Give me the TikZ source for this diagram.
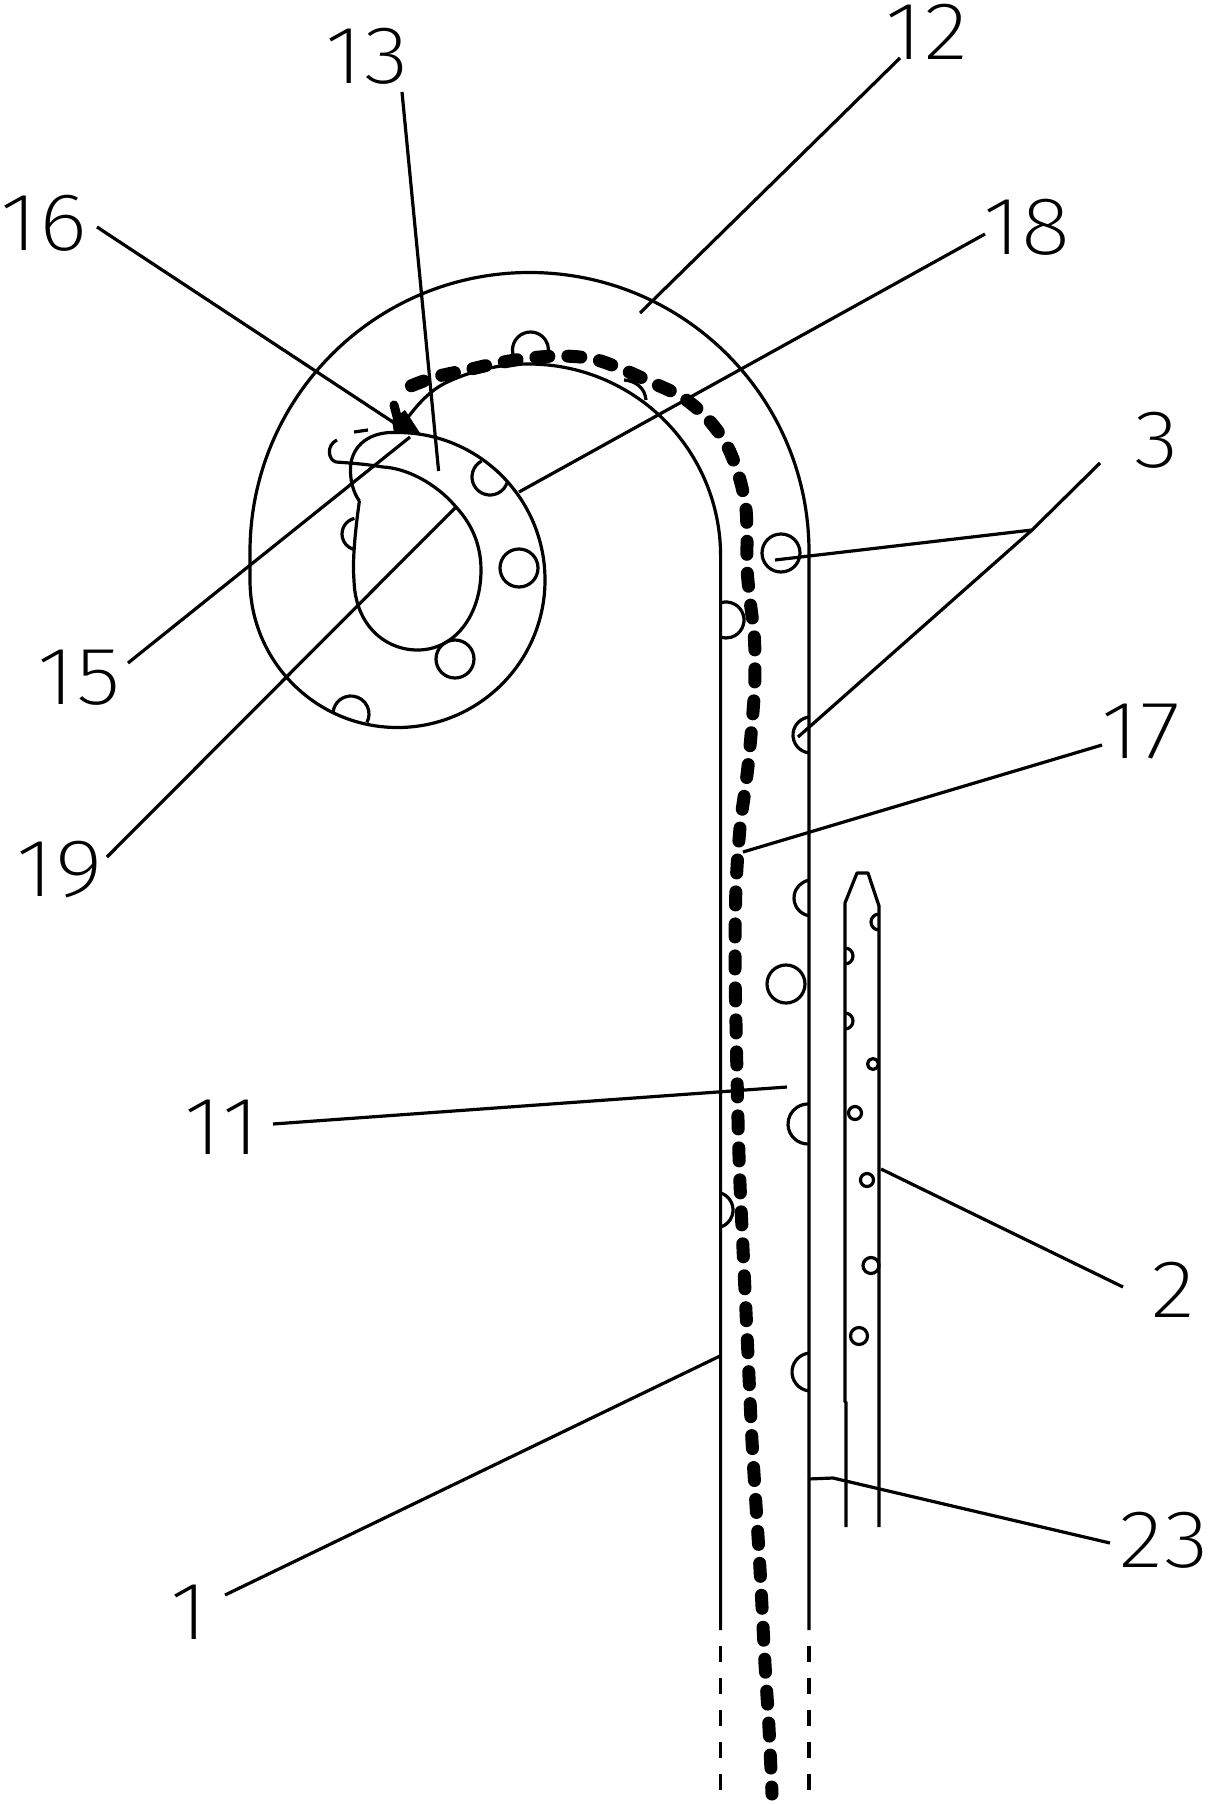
\documentclass[tikz,border=0pt]{standalone}
\usepackage{fontspec}
\newfontfamily\labelfont[FakeStretch=1.12, LetterSpace=2]{Fira Sans ExtraLight}
\usetikzlibrary{calc,positioning}

\tikzset{
  wall/.style={line width=3.2pt, line join=round},
  leader/.style={line width=3.2pt},
  flow/.style={line width=13pt, line cap=round, dash pattern=on 13pt off 19pt},
  partno/.style={inner sep=0pt, font=\labelfont\fontsize{82}{82}\selectfont}
}

\begin{document}
\begin{tikzpicture}[x=1pt, y=-1pt]
  \useasboundingbox (0,0) rectangle (1213,1804);

  % tube with its hook
  \draw[wall] (809,1630) -- (809,552) arc[start angle=0, end angle=-180, radius=279.5] -- (250,580)
    arc[start angle=180, end angle=-90, radius=147.5]
    .. controls (370,431) and (352,445) .. (350.5,467) .. controls (350,480) and (353,492) .. (359.4,501);
  \draw[wall] (359.4,501) .. controls (356,525) and (352,560) .. (354,580) .. controls (355,625) and (385,650) .. (417.5,650)
    .. controls (455,650) and (481,615) .. (481,570) .. controls (481,540) and (468,520) .. (456,507)
    .. controls (435,482) and (405,468) .. (383,467) .. controls (365,464) and (350,463) .. (336,462)
    .. controls (328,460) and (326,445) .. (337,440);
  \draw[wall] (720.6,1630) -- (720.6,556) arc[start angle=0, end angle=-115, radius=192]
    .. controls (430,390) and (417,405) .. (406,420);
  \draw[wall] (354,432) -- (368,430);
  \foreach \tubex in {720.6,809}
    \draw[wall, dash pattern=on 16pt off 16pt] (\tubex,1646) -- (\tubex,1800);

  % holes of the tube
  \foreach \cx/\cy/\r in {781/553/19, 519/568/19, 455/659/19, 786/984/19}
    \draw[wall] (\cx,\cy) circle[radius=\r];
  \foreach \cx/\cy/\r/\a/\b in {811/735/18/96/264, 812/898/18/100/260, 808/1124/20/87/273, 811/1372/19/96/264, 726/620/18/-107/107, 715/1210/18/-72/72, 530.5/350/18/146/394, 490/477/18/242/19, 351/714/18/186/388, 358/534/16/257/108}
    \draw[wall] (\cx,\cy) ++(\a:\r) arc[start angle=\a, end angle=\b, radius=\r];
  \draw[wall] (624,380) .. controls (636,381) and (645,388) .. (646,400);

  % needle
  \draw[wall] (846,1527) -- (846,1402) -- (845,1402) -- (845,903) -- (857,873) -- (868,873) -- (879,906) -- (879,1527);
  \foreach \cx/\cy/\r in {873/1064/5.5, 855/1113/6.5, 867/1180/6.5, 871/1265.5/8, 859/1336/8.5}
    \draw[wall] (\cx,\cy) circle[radius=\r];
  \foreach \cx/\cy/\a/\b in {879/922/90/270, 845/956/-90/90, 845/1021/-90/90}
    \draw[wall] (\cx,\cy) ++(\a:8) arc[start angle=\a, end angle=\b, radius=8];

  % guide wire
  \draw[flow, dash phase=6pt] plot[smooth, tension=0.55] coordinates {(772,1794) (769,1728) (765,1664) (760,1569) (756,1505) (752,1441) (749,1377) (746,1312) (743,1249) (740,1184) (738,1120) (736,1024) (735,960) (736,887) (740,828) (745,790) (749,757) (754,698) (755,663) (754,633) (750,600) (747,568) (747,535) (745.5,505) (738,473) (725.6,443) (706,417) (682,397) (653,383) (624,370) (593.6,359) (561,356) (530,358) (498,363) (467,370) (435.5,377) (406,388) (396,394)};
  \draw[line width=9pt, line cap=round] (394,405) -- (399,424);
  \fill (392,420) -- (405,410) -- (420,433) -- (394,433) -- cycle;

  % part numbers
  \node[partno] (lab1) at (189,1612) {1};
  \node[partno] (lab2) at (1173,1290) {2};
  \node[partno] (lab3) at (1157,440) {3};
  \node[partno] (lab11) at (222,1127) {11};
  \node[partno] (lab12) at (927,32) {12};
  \node[partno] (lab13) at (367,56) {13};
  \node[partno] (lab15) at (79,678) {15};
  \node[partno] (lab16) at (44,223) {16};
  \node[partno] (lab17) at (1141,732) {17};
  \node[partno] (lab18) at (1027,227) {18};
  \node[partno] (lab19) at (60,870) {19};
  \node[partno] (lab23) at (1164,1540) {23};

  % leader lines
  \coordinate (fork3) at (1032,530);
  \draw[leader] ([shift={(36,-17)}]lab1.center) -- (720,1356);
  \draw[leader] ([shift={(-50,-3)}]lab2.center) -- (881,1169);
  \draw[leader] ([shift={(-57,23)}]lab3.center) -- (fork3) -- (775,560);
  \draw[leader] (fork3) -- (798,737);
  \draw[leader] ([shift={(51,-3)}]lab11.center) -- (787,1087);
  \draw[leader] ([shift={(-27,26)}]lab12.center) -- (640,313);
  \draw[leader] ([shift={(35,36)}]lab13.center) -- (438.6,471);
  \draw[leader] ([shift={(49,-15)}]lab15.center) -- (410,437);
  \draw[leader] ([shift={(53,4)}]lab16.center) -- (405,430);
  \draw[leader] ([shift={(-39,13)}]lab17.center) -- (743,852);
  \draw[leader] ([shift={(-42,7)}]lab18.center) -- (519,492);
  \draw[leader] ([shift={(47,-13)}]lab19.center) -- (456,507);
  \draw[leader] ([shift={(-54,3)}]lab23.center) -- (833,1478) -- (808,1479);
\end{tikzpicture}
\end{document}
